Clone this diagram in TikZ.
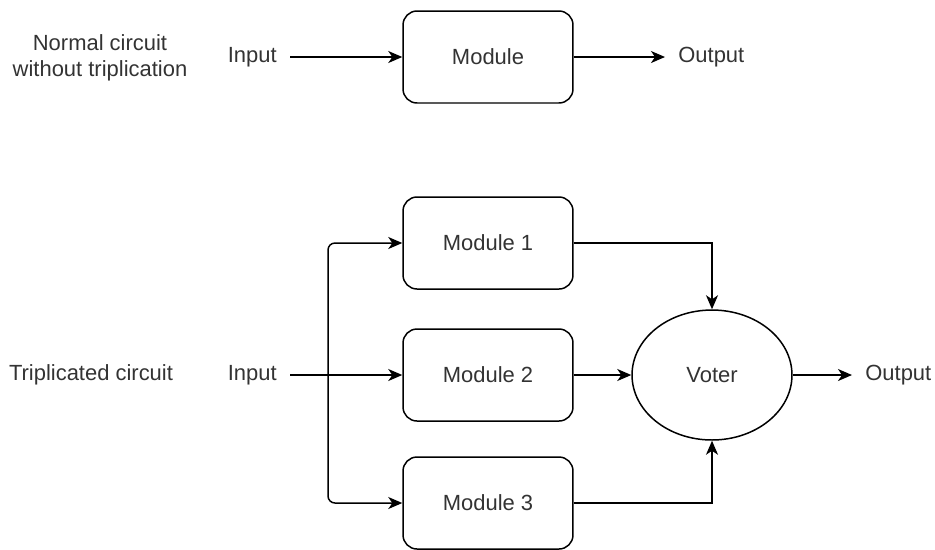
\documentclass[tikz,border=0pt]{standalone}
\usepackage{fontspec}
\setmainfont{Liberation Sans}
\usepackage{xcolor}
\usepackage{tikz}
\usetikzlibrary{shapes.geometric, arrows.meta, positioning, calc}
\definecolor{ink}{HTML}{333333}

\begin{document}
\begin{tikzpicture}[
  x=0.02cm, y=-0.02cm,
  font=\fontsize{12.5}{15}\selectfont,
  every node/.style={align=center, text=ink},
  block/.style={rectangle, draw=black, line width=0.85pt, rounded corners=0.28cm,
    minimum width=3.4cm, minimum height=1.84cm, inner sep=0pt},
  voterbox/.style={ellipse, draw=black, line width=0.85pt,
    minimum width=3.2cm, minimum height=2.6cm, inner sep=0pt},
  io/.style={inner xsep=0.26cm, inner ysep=0pt},
  arrow/.style={-{Stealth[length=0.28cm, width=0.24cm, inset=0.08cm]}, line width=0.85pt},
]
  \useasboundingbox (0,0) rectangle (935,549);

  % normal circuit
  \node (normal) at (100,58) {Normal circuit\\without triplication};
  \node[io, anchor=east] (in1) at (290,57) {Input};
  \node[block] (mod) at (488,57) {Module};
  \node[io, anchor=west] (out1) at (665,57) {Output};

  \draw[arrow] (in1) -- (mod);
  \draw[arrow] (mod) -- (out1);

  % triplicated circuit
  \node (tmr) at (91,375) {Triplicated circuit};
  \node[io, anchor=east] (in2) at (290,375) {Input};
  \node[block] (m1) at (488,243) {Module 1};
  \node[block] (m2) at (488,375) {Module 2};
  \node[block] (m3) at (488,503) {Module 3};
  \node[voterbox] (voter) at (712,375) {Voter};
  \node[io, anchor=west] (out2) at (852,375) {Output};
  \coordinate (split) at (328,375);

  \draw[arrow] (in2) -- (m2);
  \draw[arrow, rounded corners=0.14cm] (split) |- (m1);
  \draw[arrow, rounded corners=0.14cm] (split) |- (m3);
  \draw[arrow] (m1) -| (voter);
  \draw[arrow] (m2) -- (voter);
  \draw[arrow] (m3) -| (voter);
  \draw[arrow] (voter) -- (out2);
\end{tikzpicture}
\end{document}
